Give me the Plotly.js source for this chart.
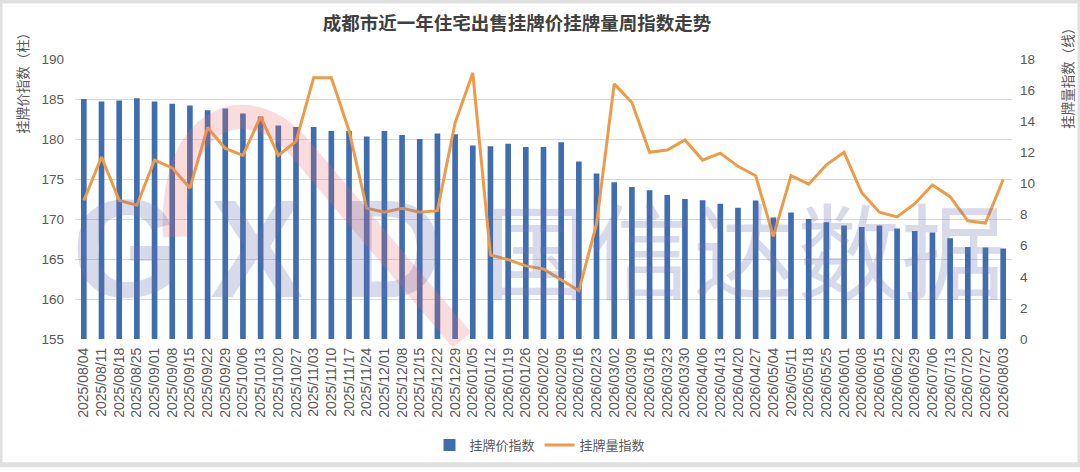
<!DOCTYPE html>
<html>
<head>
<meta charset="utf-8">
<script src="https://cdn.plot.ly/plotly-3.0.1.min.js"></script>
<style>html,body{margin:0;padding:0;background:#fff;}</style>
</head>
<body>
<div id="chart" style="width:1080px;height:472px;"></div>
<script>
const chartTitle = '成都市近一年住宅出售挂牌价挂牌量周指数走势';
const leftTitle = '挂牌价指数（柱）';
const rightTitle = '挂牌量指数（线）';
const seriesNames = ['挂牌价指数', '挂牌量指数'];

const dates = [
  '2025/08/04','2025/08/11','2025/08/18','2025/08/25','2025/09/01','2025/09/08','2025/09/15','2025/09/22','2025/09/29',
  '2025/10/06','2025/10/13','2025/10/20','2025/10/27','2025/11/03','2025/11/10','2025/11/17','2025/11/24',
  '2025/12/01','2025/12/08','2025/12/15','2025/12/22','2025/12/29','2026/01/05','2026/01/12','2026/01/19','2026/01/26',
  '2026/02/02','2026/02/09','2026/02/16','2026/02/23','2026/03/02','2026/03/09','2026/03/16','2026/03/23','2026/03/30',
  '2026/04/06','2026/04/13','2026/04/20','2026/04/27','2026/05/04','2026/05/11','2026/05/18','2026/05/25',
  '2026/06/01','2026/06/08','2026/06/15','2026/06/22','2026/06/29','2026/07/06','2026/07/13','2026/07/20','2026/07/27','2026/08/03'
];

const priceIndex = [
  185.0,184.7,184.8,185.1,184.7,184.4,184.2,183.6,183.8,
  183.2,182.8,181.7,181.5,181.5,181.0,181.0,180.3,
  181.0,180.5,180.0,180.7,180.6,179.2,179.1,179.4,179.0,
  179.0,179.6,177.2,175.7,174.6,174.0,173.6,173.0,172.5,
  172.35,171.9,171.4,172.3,170.2,170.8,170.0,169.6,
  169.2,169.0,169.2,168.8,168.5,168.3,167.6,166.5,166.45,166.3
];

const volumeIndex = [
  8.9,11.7,8.9,8.6,11.5,11.0,9.7,13.6,12.25,
  11.8,14.3,11.8,12.7,16.8,16.8,13.4,8.4,
  8.15,8.4,8.15,8.25,13.9,17.1,5.4,5.1,4.7,
  4.5,3.8,3.1,7.4,16.4,15.2,12.0,12.15,12.8,
  11.5,11.95,11.1,10.5,6.6,10.5,9.95,11.2,
  12.0,9.4,8.15,7.85,8.7,9.9,9.15,7.6,7.45,10.25
];

const leftTicks = [155,160,165,170,175,180,185,190];
const rightTicks = [0,2,4,6,8,10,12,14,16,18];

// plot area in pixels (for decoration placement only)
const W = 1080, H = 472, L = 75, R = 1012, T = 59, B = 344;
const px = x => (x - L) / (R - L);
const py = y => (B - y) / (B - T);

const FONT = '"Liberation Sans", Arial, "Noto Sans CJK SC", sans-serif';
const CJK = '"Noto Sans CJK SC", "Liberation Sans", sans-serif';
const grey = '#595959';

const traces = [
  {
    type: 'bar', name: seriesNames[0], x: dates, y: priceIndex,
    marker: {color: '#3E6DB0'}, width: 0.32, yaxis: 'y', hoverinfo: 'skip'
  },
  {
    type: 'scatter', mode: 'lines', name: seriesNames[1], x: dates, y: volumeIndex,
    line: {color: '#EE9B47', width: 3}, yaxis: 'y2', hoverinfo: 'skip'
  }
];

const wmColor = 'rgba(110,115,172,0.27)';
const layout = {
  width: W, height: H,
  margin: {l: L, r: W - R, t: T, b: H - B, pad: 0},
  paper_bgcolor: '#ffffff', plot_bgcolor: '#ffffff',
  font: {family: FONT, color: grey, size: 13},
  showlegend: true,
  title: {
    text: chartTitle, x: 517 / W, xanchor: 'center', xref: 'container',
    y: 1 - 24 / H, yanchor: 'middle', yref: 'container',
    font: {family: CJK, size: 18.5, color: '#404040', weight: 'bold'}
  },
  xaxis: {
    type: 'category', tickangle: -90, showgrid: false, zeroline: false,
    showline: false, ticks: '', tickfont: {size: 14, color: grey, family: FONT},
    ticklabelstandoff: 5,
    range: [-0.5, dates.length - 0.5], fixedrange: true
  },
  yaxis: {
    range: [155, 190], tickvals: leftTicks, ticktext: leftTicks.map(String),
    showgrid: true, gridcolor: '#d9d9d9', gridwidth: 1, zeroline: false,
    showline: false, ticks: '', tickfont: {size: 13.5, color: grey}, ticklabelstandoff: 10
  },
  yaxis2: {
    range: [0, 18], tickvals: rightTicks, ticktext: rightTicks.map(String),
    overlaying: 'y', side: 'right', showgrid: false, zeroline: false,
    showline: false, ticks: '', tickfont: {size: 13.5, color: grey}, ticklabelstandoff: 7
  },
  legend: {
    orientation: 'h', x: px(540), xanchor: 'center', y: py(452), yanchor: 'middle',
    font: {family: CJK, size: 13, color: grey}, bgcolor: 'rgba(0,0,0,0)', traceorder: 'normal'
  },
  annotations: [
    {text: leftTitle, xref: 'paper', yref: 'paper', x: px(22), y: py(80), textangle: -90,
     showarrow: false, font: {family: CJK, size: 13.5, color: grey}, xanchor: 'center', yanchor: 'middle'},
    {text: rightTitle, xref: 'paper', yref: 'paper', x: px(1067), y: py(75), textangle: -90,
     showarrow: false, font: {family: CJK, size: 13.5, color: grey}, xanchor: 'center', yanchor: 'middle'},
    // watermark
    {text: 'G', xref: 'paper', yref: 'paper', x: px(126), y: py(252), showarrow: false,
     font: {family: FONT, size: 140, color: wmColor, weight: 'bold'}, xanchor: 'center', yanchor: 'middle'},
    {text: 'X', xref: 'paper', yref: 'paper', x: px(256), y: py(252), showarrow: false,
     font: {family: FONT, size: 140, color: wmColor, weight: 'bold'}, xanchor: 'center', yanchor: 'middle'},
    {text: 'D', xref: 'paper', yref: 'paper', x: px(392), y: py(252), showarrow: false,
     font: {family: FONT, size: 140, color: wmColor, weight: 'bold'}, xanchor: 'center', yanchor: 'middle'},
    {text: '国信达数据', xref: 'paper', yref: 'paper', x: px(745), y: py(250), showarrow: false,
     font: {family: CJK, size: 104, color: wmColor}, xanchor: 'center', yanchor: 'middle'}
  ],
  shapes: [
    {type: 'path', xref: 'paper', yref: 'paper', layer: 'above',
     path: 'M ' + px(175) + ',' + py(240) + ' C ' + px(168) + ',' + py(115) + ' ' + px(250) + ',' + py(88) + ' ' + px(300) + ',' + py(150) +
           ' L ' + px(462) + ',' + py(345),
     line: {color: 'rgba(238,110,110,0.24)', width: 24}},
    {type: 'rect', xref: 'paper', yref: 'paper', x0: px(0), x1: px(W), y0: py(H), y1: py(0),
     line: {color: '#e0e0e0', width: 5}, fillcolor: 'rgba(0,0,0,0)', layer: 'above'}
  ]
};

Plotly.newPlot('chart', traces, layout, {staticPlot: true, displayModeBar: false});
</script>
</body>
</html>
